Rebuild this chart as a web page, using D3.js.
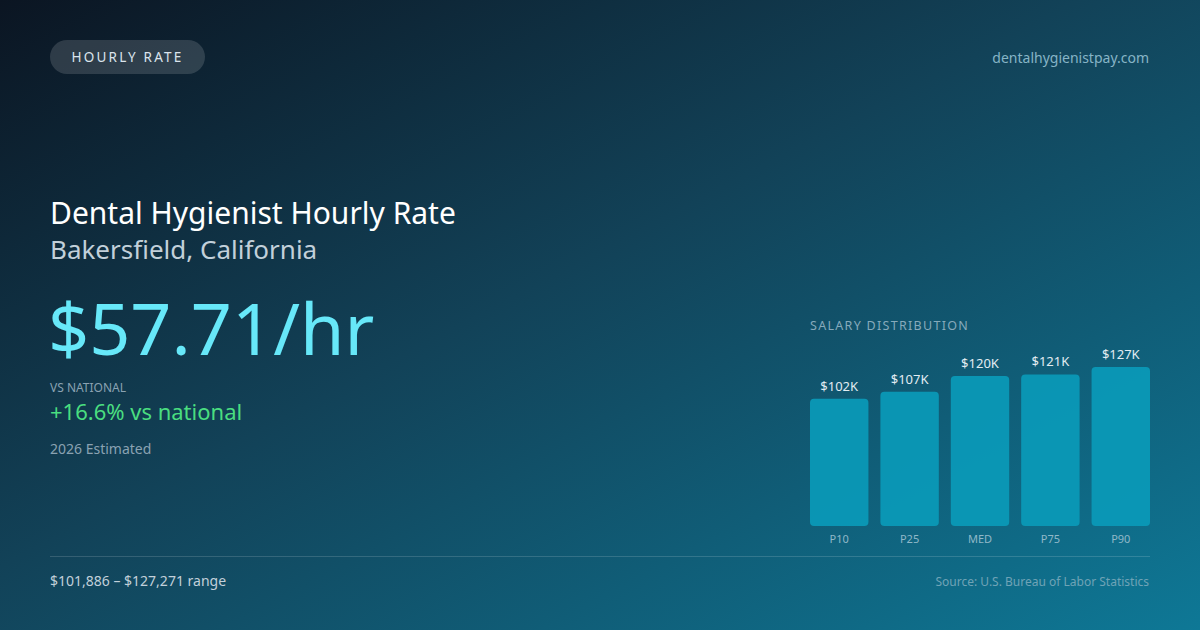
<!DOCTYPE html>
<html>
<head>
<meta charset="utf-8">
<script src="https://cdn.jsdelivr.net/npm/d3@7"></script>
<style>
  html, body { margin: 0; padding: 0; background: #0f2436; }
  svg { display: block; font-family: 'Noto Sans', sans-serif; }
</style>
</head>
<body>
<div id="card"></div>
<script>
// Datos
const percentiles = ["P10", "P25", "MED", "P75", "P90"];
const salarios = [101886, 107400, 120037, 121300, 127271];
const etiquetas = ["$102K", "$107K", "$120K", "$121K", "$127K"];

const svgWidth = 1200;
const svgHeight = 630;

const svg = d3.select("#card")
    .append("svg")
    .attr("width", svgWidth)
    .attr("height", svgHeight);

// fondo degradado
const defs = svg.append("defs");
const grad = defs.append("linearGradient")
    .attr("id", "bg")
    .attr("x1", "0%").attr("y1", "0%")
    .attr("x2", "100%").attr("y2", "100%");
grad.append("stop").attr("offset", "0%").attr("stop-color", "#0b1522");
grad.append("stop").attr("offset", "45%").attr("stop-color", "#124258");
grad.append("stop").attr("offset", "100%").attr("stop-color", "#0e7896");

svg.append("rect")
    .attr("width", svgWidth)
    .attr("height", svgHeight)
    .attr("fill", "url(#bg)");

// etiqueta superior
svg.append("rect")
    .attr("x", 50).attr("y", 40)
    .attr("width", 155).attr("height", 34)
    .attr("rx", 17)
    .attr("fill", "rgba(255,255,255,0.14)");

svg.append("text")
    .attr("x", 127.5).attr("y", 62)
    .attr("text-anchor", "middle")
    .attr("font-size", 13.5)
    .attr("letter-spacing", 2.2)
    .attr("fill", "#dbe4ec")
    .text("HOURLY RATE");

svg.append("text")
    .attr("x", 1149).attr("y", 63)
    .attr("text-anchor", "end")
    .attr("font-size", 14)
    .attr("fill", "#86b4c6")
    .text("dentalhygienistpay.com");

// titulos
svg.append("text")
    .attr("x", 50).attr("y", 224)
    .attr("font-size", 30)
    .attr("fill", "#ffffff")
    .text("Dental Hygienist Hourly Rate");

svg.append("text")
    .attr("x", 50).attr("y", 259)
    .attr("font-size", 26)
    .attr("fill", "#c2d0da")
    .text("Bakersfield, California");

svg.append("text")
    .attr("x", 48).attr("y", 355)
    .attr("font-size", 72)
    .attr("fill", "#67e8f9")
    .text("$57.71/hr");

svg.append("text")
    .attr("x", 50).attr("y", 392)
    .attr("font-size", 12)
    .attr("fill", "#8aa2b2")
    .text("VS NATIONAL");

svg.append("text")
    .attr("x", 50).attr("y", 420)
    .attr("font-size", 22)
    .attr("fill", "#4ade80")
    .text("+16.6% vs national");

svg.append("text")
    .attr("x", 50).attr("y", 454)
    .attr("font-size", 14)
    .attr("fill", "#8aa2b2")
    .text("2026 Estimated");

// linea y pie
svg.append("line")
    .attr("x1", 50).attr("x2", 1150)
    .attr("y1", 556.5).attr("y2", 556.5)
    .attr("stroke", "rgba(255,255,255,0.15)")
    .attr("stroke-width", 1);

svg.append("text")
    .attr("x", 50).attr("y", 586)
    .attr("font-size", 14)
    .attr("fill", "#c2d0da")
    .text("$101,886 – $127,271 range");

svg.append("text")
    .attr("x", 1149).attr("y", 586)
    .attr("text-anchor", "end")
    .attr("font-size", 12)
    .attr("fill", "#6fa3b6")
    .text("Source: U.S. Bureau of Labor Statistics");

// grafico de barras
const chart = svg.append("g");

chart.append("text")
    .attr("x", 810).attr("y", 330)
    .attr("font-size", 12.5)
    .attr("letter-spacing", 1.3)
    .attr("fill", "#86aabb")
    .text("SALARY DISTRIBUTION");

const x = d3.scaleBand()
    .domain(percentiles)
    .range([810, 1150])
    .paddingInner(0.17)
    .paddingOuter(0);

const baseY = 526;
const y = d3.scaleLinear()
    .domain([0, d3.max(salarios)])
    .range([baseY, baseY - 159]);

const datos = percentiles.map((p, i) => ({ p, v: salarios[i], label: etiquetas[i] }));

chart.selectAll(".bar")
    .data(datos)
    .enter().append("rect")
    .attr("class", "bar")
    .attr("x", d => x(d.p))
    .attr("y", d => y(d.v))
    .attr("width", x.bandwidth())
    .attr("height", d => baseY - y(d.v))
    .attr("rx", 4)
    .attr("fill", "#0a9ab8")
    .attr("fill-opacity", 0.92);

chart.selectAll(".val")
    .data(datos)
    .enter().append("text")
    .attr("class", "val")
    .attr("x", d => x(d.p) + x.bandwidth() / 2)
    .attr("y", d => y(d.v) - 8)
    .attr("text-anchor", "middle")
    .attr("font-size", 13)
    .attr("fill", "#e2ecf2")
    .text(d => d.label);

chart.selectAll(".cat")
    .data(datos)
    .enter().append("text")
    .attr("class", "cat")
    .attr("x", d => x(d.p) + x.bandwidth() / 2)
    .attr("y", 543)
    .attr("text-anchor", "middle")
    .attr("font-size", 11)
    .attr("fill", "#8fb8c8")
    .text(d => d.p);
</script>
</body>
</html>
